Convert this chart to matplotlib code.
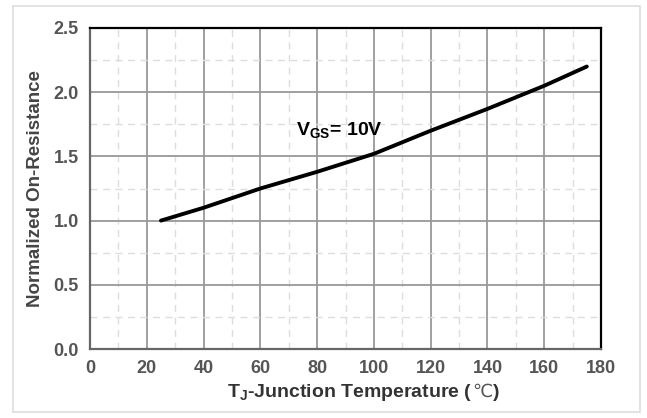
import matplotlib
matplotlib.use("Agg")
import matplotlib.pyplot as plt
from matplotlib.patches import Rectangle
from matplotlib.offsetbox import TextArea, HPacker, AnchoredOffsetbox

plt.rcParams['font.family'] = ['Liberation Sans', 'DejaVu Sans']

# data
temp = [25, 40, 60, 80, 100, 120, 140, 160, 175]
rds_norm = [1.0, 1.1, 1.25, 1.38, 1.52, 1.7, 1.87, 2.05, 2.2]

x_ticks = [0, 20, 40, 60, 80, 100, 120, 140, 160, 180]
y_ticks = [0.0, 0.5, 1.0, 1.5, 2.0, 2.5]

fig = plt.figure(figsize=(6.47, 4.18), dpi=100)
ax = fig.add_axes([90 / 647, 1 - 349 / 418, 511 / 647, 321 / 418])

# light frame around the whole picture
fig.patches.append(Rectangle((13 / 647, 1 - 412 / 418), 627 / 647, 406 / 418,
                             transform=fig.transFigure, fill=False,
                             edgecolor='#dddddd', lw=1.2))

ax.plot(temp, rds_norm, color='black', lw=2.8, solid_capstyle='round')

ax.set_xlim(0, 180)
ax.set_ylim(0, 2.5)
ax.set_xticks(x_ticks)
ax.set_yticks(y_ticks)
ax.set_xticks(range(10, 180, 20), minor=True)
ax.set_yticks([0.25, 0.75, 1.25, 1.75, 2.25], minor=True)
ax.grid(which='major', color='#999999', lw=1.3)
ax.grid(which='minor', color='#dddddd', lw=1.0, ls=(0, (5, 4)))
ax.tick_params(which='both', length=0)
ax.tick_params(axis='both', labelsize=13, labelcolor='#555555', pad=8)
ax.set_yticklabels(['%.1f' % v for v in y_ticks])
for lbl in ax.get_xticklabels() + ax.get_yticklabels():
    lbl.set_fontweight('bold')

for s in ['top', 'right']:
    ax.spines[s].set_color('black')
    ax.spines[s].set_linewidth(1.6)
for s in ['left', 'bottom']:
    ax.spines[s].set_color('#666666')
    ax.spines[s].set_linewidth(1.6)

ax.set_ylabel('Normalized On-Resistance', fontsize=13.5, fontweight='bold',
              color='#444444', labelpad=7)

# x label: mathtext subscript + the degree-Celsius sign from DejaVu
lab_props = dict(fontsize=14, fontweight='bold', color='#333333',
                 family='Liberation Sans')
parts = [TextArea('T$_\\mathregular{J}$-Junction Temperature (', textprops=lab_props),
         TextArea('\u2103', textprops=dict(fontsize=13, color='#555555',
                                           family='DejaVu Sans')),
         TextArea(')', textprops=lab_props)]
box = HPacker(children=parts, align='baseline', pad=0, sep=0)
anc = AnchoredOffsetbox(loc='center', child=box, frameon=False, pad=0,
                        bbox_to_anchor=(0.535, -0.135), bbox_transform=ax.transAxes,
                        borderpad=0)
ax.add_artist(anc)

ax.text(72.5, 1.7, 'V$_\\mathregular{GS}$= 10V', fontsize=14, fontweight='bold',
        va='center', ha='left')

fig.savefig('out.png', dpi=100)
